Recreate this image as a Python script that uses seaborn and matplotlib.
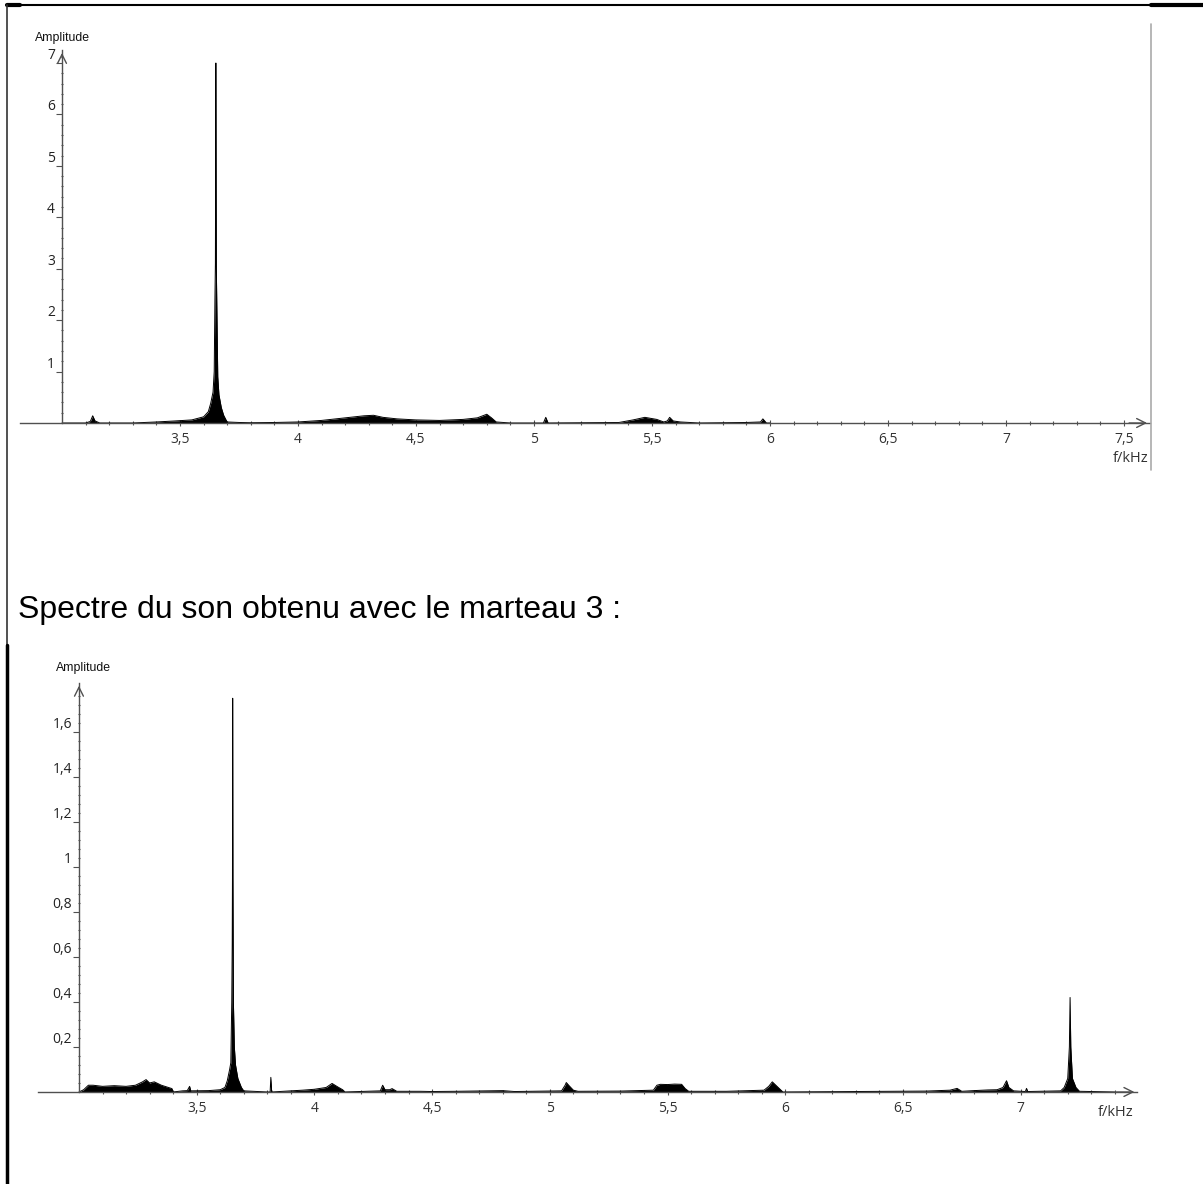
import numpy as np
import pandas as pd
import seaborn as sns
import matplotlib.pyplot as plt
from matplotlib.lines import Line2D
from matplotlib.ticker import FixedLocator

# spectre du son, premier graphe (haut)
top_freq = [3.00, 3.10, 3.12, 3.13, 3.14, 3.16, 3.30, 3.40, 3.48, 3.55, 3.60, 3.62, 3.63, 3.64,
            3.645, 3.648, 3.650, 3.652, 3.654, 3.656, 3.660, 3.665, 3.675, 3.685, 3.695, 3.70,
            3.75, 3.80, 3.90, 4.00, 4.10, 4.20, 4.28, 4.32, 4.36, 4.42, 4.50, 4.60, 4.70, 4.76,
            4.80, 4.82, 4.84, 4.90, 5.04, 5.05, 5.06, 5.36, 5.42, 5.47, 5.52, 5.55, 5.565, 5.575,
            5.59, 5.62, 5.66, 5.70, 5.80, 5.90, 5.96, 5.97, 5.985, 6.00]
top_amp = [0.0, 0.0, 0.03, 0.14, 0.04, 0.0, 0.0, 0.02, 0.04, 0.06, 0.12, 0.22, 0.38, 0.6,
           1.0, 2.4, 3.1, 7.0, 3.0, 2.3, 0.9, 0.55, 0.3, 0.15, 0.06, 0.02,
           0.01, 0.005, 0.01, 0.02, 0.05, 0.10, 0.14, 0.15, 0.11, 0.08, 0.06, 0.05, 0.07, 0.10,
           0.17, 0.10, 0.02, 0.0, 0.0, 0.11, 0.0, 0.01, 0.06, 0.11, 0.07, 0.02, 0.04, 0.11,
           0.04, 0.02, 0.01, 0.0, 0.005, 0.01, 0.02, 0.08, 0.0, 0.0]

# marteau 3 (bas)
bot_freq = [3.00, 3.02, 3.04, 3.06, 3.10, 3.15, 3.20, 3.24, 3.27, 3.285, 3.30, 3.32, 3.35, 3.38,
            3.395, 3.40, 3.44, 3.46, 3.47, 3.475, 3.55, 3.60, 3.62, 3.63, 3.64, 3.645, 3.649,
            3.651, 3.652, 3.653, 3.654, 3.656, 3.66, 3.665, 3.675, 3.69, 3.70, 3.80, 3.812,
            3.815, 3.818, 3.82, 3.90, 3.95, 4.00, 4.05, 4.075, 4.10, 4.12, 4.13, 4.28, 4.29,
            4.30, 4.32, 4.33, 4.35, 4.45, 4.50, 4.60, 4.80, 4.85, 5.05, 5.065, 5.07, 5.08,
            5.10, 5.12, 5.30, 5.44, 5.455, 5.47, 5.50, 5.53, 5.56, 5.575, 5.59, 5.75, 5.91,
            5.93, 5.945, 5.96, 5.98, 5.99, 6.60, 6.70, 6.73, 6.75, 6.80, 6.86, 6.90, 6.925,
            6.94, 6.95, 6.97, 7.02, 7.025, 7.03, 7.17, 7.185, 7.20, 7.207, 7.21, 7.213, 7.22,
            7.235, 7.25, 7.40]
bot_amp = [0.0, 0.01, 0.03, 0.03, 0.025, 0.028, 0.025, 0.03, 0.045, 0.055, 0.04, 0.045, 0.03, 0.02,
           0.015, 0.0, 0.005, 0.006, 0.025, 0.005, 0.006, 0.01, 0.02, 0.05, 0.10, 0.13, 0.4,
           0.66, 0.95, 1.75, 0.95, 0.4, 0.2, 0.12, 0.06, 0.02, 0.005, 0.0, 0.0,
           0.065, 0.01, 0.0, 0.005, 0.008, 0.012, 0.02, 0.038, 0.022, 0.01, 0.0, 0.005, 0.03,
           0.01, 0.01, 0.015, 0.003, 0.003, 0.002, 0.003, 0.006, 0.002, 0.005, 0.03, 0.042, 0.03,
           0.008, 0.003, 0.004, 0.008, 0.03, 0.034, 0.033, 0.035, 0.034, 0.015, 0.003, 0.003, 0.008,
           0.025, 0.045, 0.03, 0.01, 0.0, 0.004, 0.008, 0.016, 0.003, 0.006, 0.009, 0.01, 0.02,
           0.05, 0.02, 0.005, 0.002, 0.016, 0.002, 0.005, 0.02, 0.06, 0.2, 0.42, 0.2, 0.06,
           0.02, 0.003, 0.0]

top_xticks = [3.5, 4, 4.5, 5, 5.5, 6, 6.5, 7, 7.5]
top_xlabels = ['3,5', '4', '4,5', '5', '5,5', '6', '6,5', '7', '7,5']
top_yticks = [1, 2, 3, 4, 5, 6, 7]
top_ylabels = ['1', '2', '3', '4', '5', '6', '7']
bot_xticks = [3.5, 4, 4.5, 5, 5.5, 6, 6.5, 7]
bot_xlabels = ['3,5', '4', '4,5', '5', '5,5', '6', '6,5', '7']
bot_yticks = [0.2, 0.4, 0.6, 0.8, 1.0, 1.2, 1.4, 1.6]
bot_ylabels = ['0,2', '0,4', '0,6', '0,8', '1', '1,2', '1,4', '1,6']

sns.set_theme(style='white')
plt.rcParams['font.family'] = ['Open Sans', 'DejaVu Sans']

W, H = 1203, 1184
fig = plt.figure(figsize=(W / 100, H / 100), dpi=100)


def fx(x):
    return x / W


def fy(y):
    return 1 - y / H


def spectre(box, xlim, ylim, freq, amp, xticks, xlabels, yticks, ylabels, x_end, y_top, ymin_step):
    l, t, r, b = box
    ax = fig.add_axes([fx(l), fy(b), (r - l) / W, (b - t) / H])
    ax.set_facecolor('none')
    df = pd.DataFrame({'f': freq, 'a': amp})
    sns.lineplot(data=df, x='f', y='a', ax=ax, color='black', lw=0.7, estimator=None, sort=False)
    ax.fill_between(df['f'], df['a'], color='black', lw=0)
    ax.set_xlim(*xlim)
    ax.set_ylim(*ylim)
    ax.set_xlabel('')
    ax.set_ylabel('')
    axc = '#505050'
    for s in ['top', 'right']:
        ax.spines[s].set_visible(False)
    ax.spines['bottom'].set_position(('data', 0))
    ax.spines['bottom'].set_bounds(xlim[0], x_end)
    ax.spines['left'].set_position(('data', 3.0))
    ax.spines['left'].set_bounds(0, y_top)
    for s in ['bottom', 'left']:
        ax.spines[s].set_color(axc)
        ax.spines[s].set_linewidth(1.0)
    ax.annotate('', xy=(x_end, 0), xytext=(x_end - 0.1, 0),
                arrowprops=dict(arrowstyle='->', color=axc, lw=1.0, mutation_scale=16))
    ax.annotate('', xy=(3.0, y_top), xytext=(3.0, y_top - ymin_step),
                arrowprops=dict(arrowstyle='->', color=axc, lw=1.0, mutation_scale=16))
    ax.set_xticks(xticks)
    ax.set_xticklabels(xlabels)
    ax.set_yticks(yticks)
    ax.set_yticklabels(ylabels)
    ax.xaxis.set_minor_locator(FixedLocator(np.arange(3.1, x_end - 0.05, 0.1)))
    ax.yaxis.set_minor_locator(FixedLocator(np.arange(ymin_step, y_top - ymin_step / 2, ymin_step)))
    ax.tick_params(axis='x', which='major', direction='inout', length=5, width=0.8, color=axc,
                   labelsize=10, pad=4, labelcolor='#333333', bottom=True)
    ax.tick_params(axis='x', which='minor', direction='inout', length=3, width=0.8, color=axc, bottom=True)
    ax.tick_params(axis='y', which='major', direction='out', length=4, width=0.8, color=axc,
                   labelsize=10, pad=1, labelcolor='#222222', left=True)
    ax.tick_params(axis='y', which='minor', direction='inout', length=2, width=0.8, color=axc, left=True)
    for lab in ax.get_yticklabels():
        lab.set_va('bottom')
    return ax


spectre((20, 20, 1152, 470), (2.822, 7.619), (-0.914, 7.836), top_freq, top_amp,
        top_xticks, top_xlabels, top_yticks, top_ylabels, 7.61, 7.25, 0.2)
spectre((38, 660, 1140, 1130), (2.826, 7.507), (-0.169, 1.92), bot_freq, bot_amp,
        bot_xticks, bot_xlabels, bot_yticks, bot_ylabels, 7.495, 1.818, 0.04)

lab_font = ['Liberation Sans', 'DejaVu Sans']
fig.text(fx(35), fy(38), 'Amplitude', fontsize=8.8, family=lab_font, va='center', ha='left', color='#111111')
fig.text(fx(56), fy(668), 'Amplitude', fontsize=8.8, family=lab_font, va='center', ha='left', color='#111111')
fig.text(fx(1148), fy(458), 'f/kHz', fontsize=10.5, va='center', ha='right', color='#333333')
fig.text(fx(1133), fy(1112), 'f/kHz', fontsize=10.5, va='center', ha='right', color='#333333')
fig.text(fx(18), fy(610), 'Spectre du son obtenu avec le marteau 3 :', fontsize=23,
         family=lab_font, va='center', ha='left', color='black')

# cadre de la page
fig.add_artist(Line2D([fx(7), fx(W)], [fy(5), fy(5)], color='black', lw=1.5))
fig.add_artist(Line2D([fx(1151), fx(W)], [fy(5), fy(5)], color='black', lw=3))
fig.add_artist(Line2D([fx(7), fx(20)], [fy(5), fy(5)], color='black', lw=3))
fig.add_artist(Line2D([fx(7), fx(7)], [fy(5), fy(645)], color='#333333', lw=1.2))
fig.add_artist(Line2D([fx(7), fx(7)], [fy(645), fy(H)], color='black', lw=2.5))
fig.add_artist(Line2D([fx(1151), fx(1151)], [fy(24), fy(470)], color='#aaaaaa', lw=1.2))

fig.savefig('out.png', dpi=100)
